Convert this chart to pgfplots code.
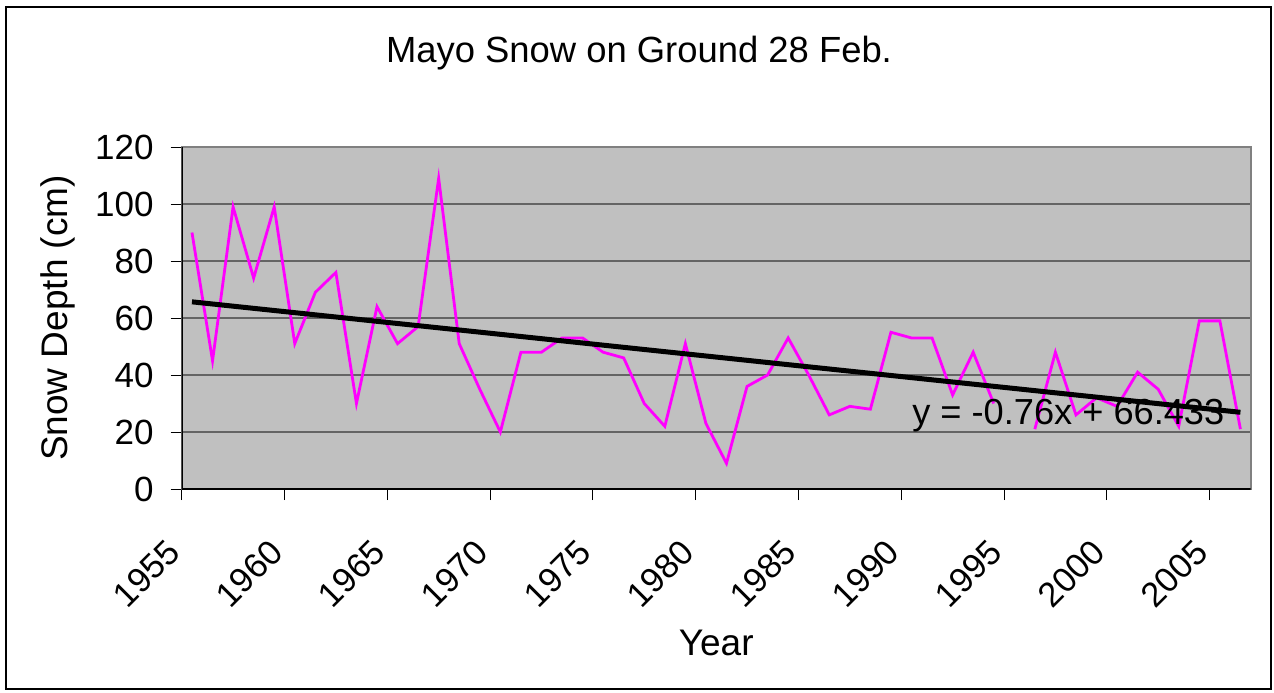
\documentclass[border=0pt]{standalone}
\usepackage{pgfplots}
\pgfplotsset{compat=1.18}
\usepackage{pgfplotstable}
\usepackage{fontspec}
\setmainfont{Liberation Sans}
\definecolor{plotgray}{RGB}{192,192,192}
\definecolor{gridgray}{RGB}{100,100,100}
\definecolor{framegray}{RGB}{128,128,128}
\definecolor{seriesmag}{RGB}{255,0,255}
\pgfplotstableread{
year depth
1955 90
1956 45
1957 99
1958 74
1959 99
1960 51
1961 69
1962 76
1963 30
1964 64
1965 51
1966 57
1967 109
1968 51
1969 35
1970 20
1971 48
1972 48
1973 53
1974 53
1975 48
1976 46
1977 30
1978 22
1979 51
1980 23
1981 9
1982 36
1983 40
1984 53
1985 40
1986 26
1987 29
1988 28
1989 55
1990 53
1991 53
1992 33
1993 48
1994 30
1995 nan
1996 21
1997 48
1998 26
1999 32
2000 29
2001 41
2002 35
2003 22
2004 59
2005 59
2006 21
}\snowtable
\pgfplotstableread{
year trend
1955 65.673
2006 26.913
}\trendtable
\begin{document}
\begin{tikzpicture}[x=1pt,y=1pt]
\useasboundingbox (0,0) rectangle (637,346);
\draw[black, line width=0.6pt] (3,1.5) rectangle (635.5,342.5);
\node[anchor=base, inner sep=0pt, font=\fontsize{18.2}{22}\selectfont] at (319.5,314.5) {Mayo Snow on Ground 28 Feb.};
\begin{axis}[
  at={(90.85pt,101.5pt)}, anchor=south west,
  scale only axis, width=534.5pt, height=171pt,
  xmin=1954.5, xmax=2006.5, ymin=0, ymax=120,
  ytick={0,20,...,120},
  xtick={1954.5,1959.5,...,2004.5},
  xticklabels={1955,1960,1965,1970,1975,1980,1985,1990,1995,2000,2005},
  xtick pos=left, ytick pos=left,
  tick align=outside, major tick length=5.5pt,
  tick style={black, line width=0.5pt},
  ymajorgrids, grid style={gridgray, line width=0.6pt},
  axis background/.style={fill=plotgray},
  axis line style={framegray, line width=0.8pt},
  yticklabel style={font=\fontsize{17.5}{21}\selectfont, xshift=-5pt},
  /pgf/number format/assume math mode=true,
  xticklabel style={font=\fontsize{17.3}{20}\selectfont, xshift=-4pt, yshift=-23pt, rotate=45, anchor=east, inner sep=0pt},
  xlabel={Year}, ylabel={Snow Depth (cm)},
  label style={font=\fontsize{18.5}{22}\selectfont},
  xlabel style={at={(axis description cs:0.5,0)}, anchor=center, yshift=-77pt},
  ylabel style={at={(axis description cs:-0.116,0.5)}, anchor=center},
  unbounded coords=jump,
]
\addplot[color=seriesmag, line width=1.4pt, no markers] table[x=year, y=depth] {\snowtable};
\node[anchor=base west, inner sep=0pt, font=\fontsize{18.1}{22}\selectfont] at (axis cs:1990.02,22.8) {y = -0.76x + 66.433};
\addplot[black, line width=2.5pt, no markers] table[x=year, y=trend] {\trendtable};
\draw[black, line width=0.8pt] (rel axis cs:0,1) -- (rel axis cs:0,0) -- (rel axis cs:1,0);
\end{axis}
\end{tikzpicture}
\end{document}
